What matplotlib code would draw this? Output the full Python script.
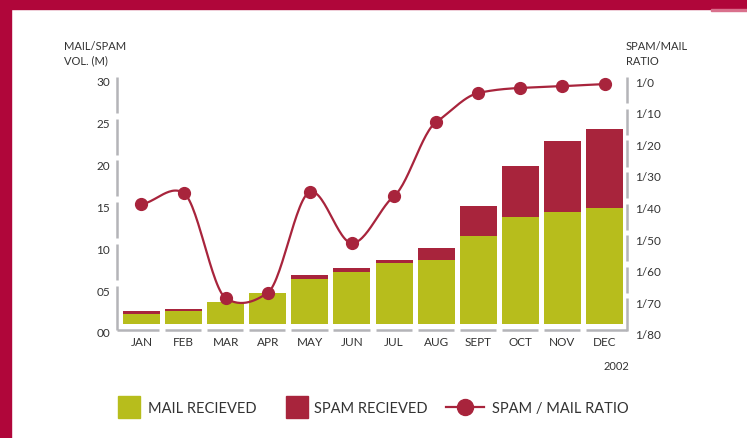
import numpy as np
import matplotlib.pyplot as plt
from matplotlib.patches import Rectangle
from matplotlib.lines import Line2D

plt.rcParams['font.family'] = ['Lato', 'DejaVu Sans']

# data
months = ["JAN", "FEB", "MAR", "APR", "MAY", "JUN", "JUL", "AUG", "SEPT", "OCT", "NOV", "DEC"]
mail = [2.15, 2.5, 3.6, 4.65, 6.3, 7.2, 8.2, 8.6, 11.5, 13.7, 14.3, 14.8]
spam = [0.35, 0.25, 0.0, 0.0, 0.5, 0.45, 0.4, 1.4, 3.6, 6.1, 8.5, 9.4]
ratio = [39, 35.4, 68.7, 67, 35.1, 51.3, 36.4, 13, 3.8, 2.2, 1.6, 1.0]   # spam/mail = 1/ratio

vol_ticks = [0, 5, 10, 15, 20, 25, 30]
vol_labels = ["00", "05", "10", "15", "20", "25", "30"]
ratio_ticks = [0, 10, 20, 30, 40, 50, 60, 70, 80]
ratio_labels = ["1/%d" % t for t in ratio_ticks]

FRAME = "#b0063a"
GREEN = "#b7bd1c"
RED = "#a8243c"
GREY = "#b4b4b8"
TEXT = "#333333"
W, H = 747, 439
FLOOR = 0.9   # bars float a little above the axis


def fx(px):
    return px / W


def fy(py):
    return 1 - py / H


def cardinal(x, y, tension=0.55, n=30):
    # hermite curve through the points, tangents scaled down a bit
    x = np.asarray(x, float)
    y = np.asarray(y, float)
    m = np.zeros_like(y)
    m[1:-1] = (y[2:] - y[:-2]) / 2
    m[0] = y[1] - y[0]
    m[-1] = y[-1] - y[-2]
    m = m * tension
    xs, ys = [], []
    t = np.linspace(0, 1, n)
    h00 = 2 * t**3 - 3 * t**2 + 1
    h10 = t**3 - 2 * t**2 + t
    h01 = -2 * t**3 + 3 * t**2
    h11 = t**3 - t**2
    for i in range(len(x) - 1):
        xs.append(x[i] + t * (x[i + 1] - x[i]))
        ys.append(h00 * y[i] + h10 * m[i] + h01 * y[i + 1] + h11 * m[i + 1])
    return np.concatenate(xs), np.concatenate(ys)


fig = plt.figure(figsize=(W / 100, H / 100), dpi=100)
ax = fig.add_axes([fx(117), fy(335), fx(627) - fx(117), fy(78) - fy(335)])
ax2 = ax.twinx()

x = np.arange(len(months))
x0, x1 = -0.582, 11.534
ax.set_xlim(x0, x1)
ax.set_ylim(-0.24, 30.47)
ax2.set_ylim(80.06, -1.27)

mail_arr = np.array(mail)
spam_arr = np.array(spam)
ax.bar(x, mail_arr - FLOOR, bottom=FLOOR, width=0.88, color=GREEN, zorder=2)
ax.bar(x, spam_arr, bottom=mail_arr, width=0.88, color=RED, zorder=2)

sx, sy = cardinal(x, ratio)
ax2.plot(sx, sy, color=RED, lw=1.6, zorder=3)
ax2.plot(x, ratio, 'o', color=RED, ms=8.5, zorder=4)

# broken axis lines
for a in (ax, ax2):
    for s in a.spines.values():
        s.set_visible(False)
seg = dict(color=GREY, lw=1.8, clip_on=False, solid_capstyle='butt', zorder=1)
base = 0.25
for v in vol_ticks[1:]:
    top = v + 0.5
    bot = v - 5 + 1.2 if v > 5 else base
    ax.plot([x0, x0], [bot, top], **seg)
for v in ratio_ticks[:-1]:
    top = v - 1.2
    bot = v + 10 - 2.9 if v < 70 else 79.2
    ax2.plot([x1, x1], [bot, top], **seg)
for i in x:
    left = x0 if i == 0 else i - 0.44
    right = x1 if i == len(months) - 1 else i + 0.42
    ax.plot([left, right], [base, base], **seg)

ax.set_xticks(x)
ax.set_xticklabels(months)
ax.set_yticks(vol_ticks)
ax.set_yticklabels(vol_labels)
ax2.set_yticks(ratio_ticks)
ax2.set_yticklabels(ratio_labels)
ax.tick_params(axis='x', length=0, pad=1.5, labelsize=8.5, labelcolor=TEXT)
ax.tick_params(axis='y', length=0, pad=5, labelsize=8.5, labelcolor=TEXT)
ax2.tick_params(axis='y', length=0, pad=6, labelsize=8.5, labelcolor=TEXT)

fig.text(fx(64), fy(54), "MAIL/SPAM\nVOL. (M)", fontsize=8, color=TEXT,
         ha='left', va='center', linespacing=1.35)
fig.text(fx(626), fy(54), "SPAM/MAIL\nRATIO", fontsize=8, color=TEXT,
         ha='left', va='center', linespacing=1.35)
fig.text(fx(616), fy(366), "2002", fontsize=8, color=TEXT, ha='center', va='center')

# frame
fig.patches.append(Rectangle((0, fy(10)), 1, 10 / H, transform=fig.transFigure, color=FRAME))
fig.patches.append(Rectangle((fx(711), fy(11.5)), 36 / W, 1.5 / H, transform=fig.transFigure,
                             color="#d9708c"))
fig.patches.append(Rectangle((0, 0), 11 / W, 1, transform=fig.transFigure, color=FRAME))

# legend
fig.patches.append(Rectangle((fx(118), fy(419)), 22 / W, 22 / H, transform=fig.transFigure, color=GREEN))
fig.patches.append(Rectangle((fx(286), fy(419)), 22 / W, 22 / H, transform=fig.transFigure, color=RED))
fig.lines.append(Line2D([fx(446), fx(484)], [fy(408), fy(408)], transform=fig.transFigure,
                        color=RED, lw=1.6))
fig.lines.append(Line2D([fx(465)], [fy(408)], transform=fig.transFigure, marker='o',
                        color=RED, ms=11.5))
for px, label in [(148, "MAIL RECIEVED"), (314, "SPAM RECIEVED"), (492, "SPAM / MAIL RATIO")]:
    fig.text(fx(px), fy(409), label, fontsize=10.5, color=TEXT, ha='left', va='center')

fig.savefig("out.png", dpi=100)
